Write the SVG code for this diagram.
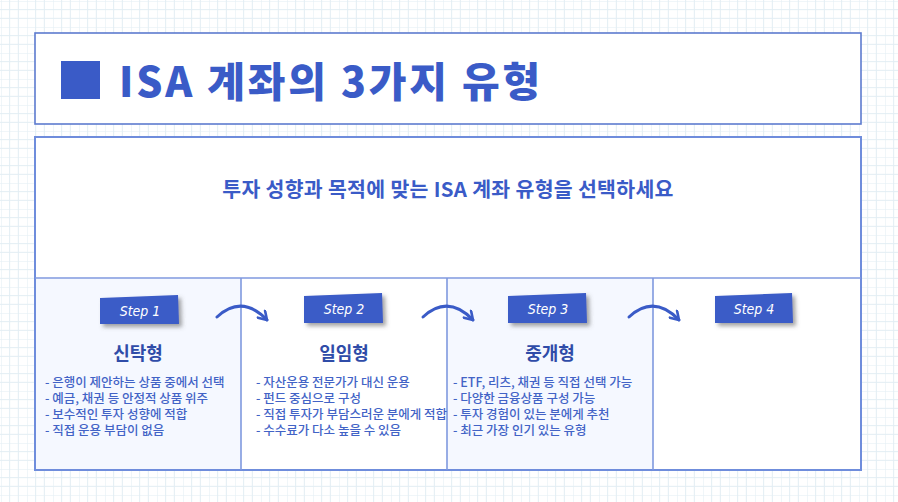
<svg xmlns="http://www.w3.org/2000/svg" width="898" height="502" viewBox="0 0 898 502">
  <defs>
    <pattern id="grid" width="26" height="26" patternUnits="userSpaceOnUse" x="1" y="1">
      <path d="M0 0H26M0 8.67H26M0 17.33H26M0 0V26M8.67 0V26M17.33 0V26" stroke="#e2edf3" stroke-width="1" fill="none"/>
    </pattern>
    <filter id="shadow" x="-20%" y="-30%" width="150%" height="180%">
      <feDropShadow dx="3" dy="3" stdDeviation="2" flood-color="#555" flood-opacity="0.55"/>
    </filter>
    <marker id="arrowhead" viewBox="0 0 12 12" refX="10" refY="6" markerWidth="12" markerHeight="12" markerUnits="userSpaceOnUse" orient="auto">
      <path d="M2 1 L10 6 L2 11" fill="none" stroke="#3a5bc7" stroke-width="2.6" stroke-linecap="round" stroke-linejoin="round"/>
    </marker>
    <style>
      .box { fill: #ffffff; stroke: #5d7bcf; stroke-width: 1.6; }
      .main { fill: #ffffff; stroke: #6f8ddc; stroke-width: 2; }
      .divider { stroke: #7f99df; stroke-width: 1.6; }
      .shade { fill: #f5f8ff; }
      .title { font-family: "Noto Sans CJK KR", "Noto Sans", sans-serif; font-weight: 900; font-size: 41px; letter-spacing: 2.8px; fill: #3a5bc7; }
      .subtitle { font-family: "Noto Sans CJK KR", "Noto Sans", sans-serif; font-weight: 700; font-size: 20.5px; letter-spacing: 0.3px; fill: #3a5bc7; text-anchor: middle; }
      .badge { fill: #3a5bc7; filter: url(#shadow); }
      .badgetext { font-family: "DejaVu Sans Condensed", "DejaVu Sans", sans-serif; font-style: italic; font-size: 14px; fill: #ffffff; text-anchor: middle; }
      .coltitle { font-family: "Noto Sans CJK KR", "Noto Sans", sans-serif; font-weight: 700; font-size: 18px; fill: #2f4ca8; text-anchor: middle; }
      .item { font-family: "Noto Sans CJK KR", "Noto Sans", sans-serif; font-weight: 500; font-size: 12.5px; fill: #4263c6; }
      .arrow { fill: none; stroke: #3a5bc7; stroke-width: 3; stroke-linecap: round; }
    </style>
  </defs>

  <rect width="898" height="502" fill="#ffffff"/>
  <rect width="898" height="502" fill="url(#grid)"/>

  <g id="title-box">
    <rect class="box" x="35" y="33" width="826" height="91"/>
    <rect x="61" y="61" width="39" height="38" fill="#3a5bc7"/>
    <text class="title" x="119" y="97">ISA 계좌의 3가지 유형</text>
  </g>

  <g id="main-box">
    <rect class="main" x="35" y="137" width="826" height="333"/>
    <rect class="shade" x="36" y="279" width="205" height="190"/>
    <rect class="shade" x="447" y="279" width="206" height="190"/>
    <line class="divider" x1="35" y1="278" x2="861" y2="278"/>
    <line class="divider" x1="241" y1="278" x2="241" y2="470"/>
    <line class="divider" x1="447" y1="278" x2="447" y2="470"/>
    <line class="divider" x1="653" y1="278" x2="653" y2="470"/>
    <text class="subtitle" x="448" y="197">투자 성향과 목적에 맞는 ISA 계좌 유형을 선택하세요</text>
  </g>

  <g id="step1">
    <path class="badge" d="M100 298 L178 295 L179 324 L100 324 Z"/>
    <text class="badgetext" x="140" y="316">Step 1</text>
    <text class="coltitle" x="138" y="360">신탁형</text>
    <text class="item" x="45" y="387">- 은행이 제안하는 상품 중에서 선택</text>
    <text class="item" x="45" y="403">- 예금, 채권 등 안정적 상품 위주</text>
    <text class="item" x="45" y="419">- 보수적인 투자 성향에 적합</text>
    <text class="item" x="45" y="435">- 직접 운용 부담이 없음</text>
  </g>

  <g id="step2">
    <path class="badge" d="M304 296 L382 293 L383 323 L304 323 Z"/>
    <text class="badgetext" x="344" y="314">Step 2</text>
    <text class="coltitle" x="344" y="360">일임형</text>
    <text class="item" x="256" y="387">- 자산운용 전문가가 대신 운용</text>
    <text class="item" x="256" y="403">- 펀드 중심으로 구성</text>
    <text class="item" x="256" y="419">- 직접 투자가 부담스러운 분에게 적합</text>
    <text class="item" x="256" y="435">- 수수료가 다소 높을 수 있음</text>
  </g>

  <g id="step3">
    <path class="badge" d="M508 296 L586 293 L587 323 L508 323 Z"/>
    <text class="badgetext" x="548" y="314">Step 3</text>
    <text class="coltitle" x="550" y="360">중개형</text>
    <text class="item" x="453" y="387">- ETF, 리츠, 채권 등 직접 선택 가능</text>
    <text class="item" x="453" y="403">- 다양한 금융상품 구성 가능</text>
    <text class="item" x="453" y="419">- 투자 경험이 있는 분에게 추천</text>
    <text class="item" x="453" y="435">- 최근 가장 인기 있는 유형</text>
  </g>

  <g id="step4">
    <path class="badge" d="M715 296 L792 293 L793 323 L715 323 Z"/>
    <text class="badgetext" x="754" y="314">Step 4</text>
  </g>

  <g id="connectors">
    <path class="arrow" d="M217 317 Q242 294 267 320" marker-end="url(#arrowhead)"/>
    <path class="arrow" d="M423 317 Q448 294 473 320" marker-end="url(#arrowhead)"/>
    <path class="arrow" d="M629 317 Q654 294 679 320" marker-end="url(#arrowhead)"/>
  </g>
</svg>
